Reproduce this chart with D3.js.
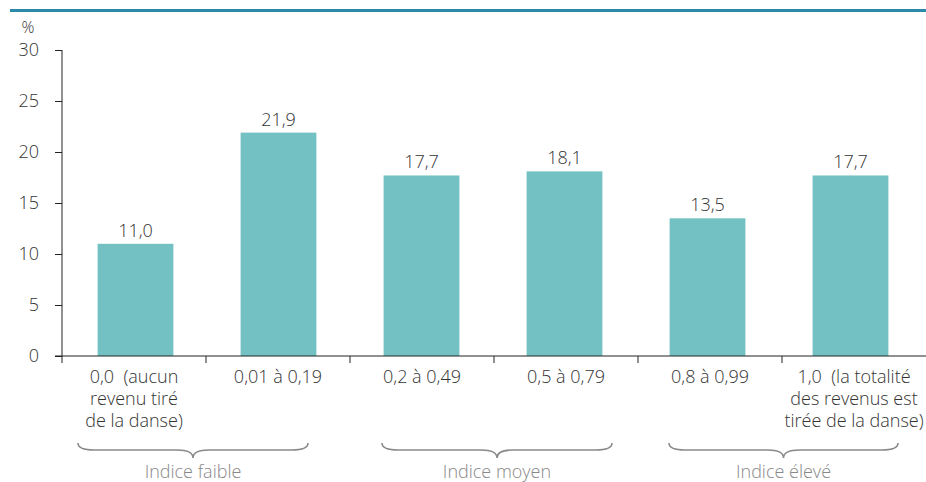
<!DOCTYPE html>
<html>
<head>
<meta charset="utf-8">
<script src="https://cdn.jsdelivr.net/npm/d3@7"></script>
<style>
  body { margin: 0; background: #fff; }
  text { font-family: "Open Sans", "Liberation Sans", sans-serif; font-weight: 300; white-space: pre; }
</style>
</head>
<body>
<svg id="chart" width="926" height="482"></svg>
<script>
// data
var categories = ["c0", "c1", "c2", "c3", "c4", "c5"];
var catLabels = [
  ["0,0  (aucun", "revenu tiré", "de la danse)"],
  ["0,01 à 0,19"],
  ["0,2 à 0,49"],
  ["0,5 à 0,79"],
  ["0,8 à 0,99"],
  ["1,0  (la totalité", "des revenus est", "tirée de la danse)"]
];
var values = [11.0, 21.9, 17.7, 18.1, 13.5, 17.7];
var groups = ["Indice faible", "Indice moyen", "Indice élevé"];
var groupStart = [0, 2, 4];
var yTicks = [0, 5, 10, 15, 20, 25, 30];

var svg = d3.select("#chart");
var mLeft = 62, mRight = 926, mTop = 50, mBottom = 356;
var fs = 18;

// top rule
svg.append("rect")
  .attr("x", 10).attr("y", 9)
  .attr("width", 916).attr("height", 3)
  .attr("fill", "#2b8aa7");

var x = d3.scaleBand()
  .domain(categories)
  .range([mLeft + 2, mRight - 4])
  .paddingInner(0.47)
  .paddingOuter(0.235);

var band = (mRight - mLeft) / categories.length;
var y = d3.scaleLinear().domain([0, 30]).range([mBottom, mTop]);

// y axis
var yAxis = svg.append("g")
  .attr("transform", "translate(" + mLeft + ",0)")
  .call(d3.axisLeft(y).tickValues(yTicks).tickSize(7).tickPadding(16));
yAxis.select(".domain").attr("stroke", "#222").attr("d", "M0," + mTop + "V" + mBottom);
yAxis.selectAll(".tick line").attr("stroke", "#222");
yAxis.selectAll(".tick text")
  .attr("font-size", fs).attr("fill", "#333")
  .attr("font-family", null)
  .style("font-family", "'Open Sans', sans-serif").style("font-weight", 300);

svg.append("text")
  .attr("x", 28).attr("y", 33)
  .attr("text-anchor", "middle")
  .attr("font-size", 16).attr("fill", "#333")
  .text("%");

// bars
svg.selectAll("rect.bar")
  .data(values)
  .join("rect")
  .attr("class", "bar")
  .attr("x", function (d, i) { return x(categories[i]); })
  .attr("width", x.bandwidth())
  .attr("y", function (d) { return y(d); })
  .attr("height", function (d) { return y(0) - y(d); })
  .attr("fill", "#73c1c2");

// value labels
svg.selectAll("text.val")
  .data(values)
  .join("text")
  .attr("class", "val")
  .attr("x", function (d, i) { return x(categories[i]) + x.bandwidth() / 2; })
  .attr("y", function (d) { return y(d) - 7; })
  .attr("text-anchor", "middle")
  .attr("font-size", fs).attr("fill", "#333")
  .text(function (d) { return d.toFixed(1).replace(".", ","); });

// x axis
svg.append("line")
  .attr("x1", 55).attr("x2", mRight)
  .attr("y1", mBottom).attr("y2", mBottom)
  .attr("stroke", "#222");
svg.selectAll("line.xt")
  .data(d3.range(categories.length))
  .join("line")
  .attr("class", "xt")
  .attr("x1", function (i) { return mLeft + i * band; })
  .attr("x2", function (i) { return mLeft + i * band; })
  .attr("y1", mBottom).attr("y2", mBottom + 7)
  .attr("stroke", "#222");

// category labels
var cl = svg.selectAll("text.cat")
  .data(catLabels)
  .join("text")
  .attr("class", "cat")
  .attr("text-anchor", "middle")
  .attr("font-size", fs).attr("fill", "#333");
cl.selectAll("tspan")
  .data(function (d, i) { return d.map(function (s) { return { s: s, i: i }; }); })
  .join("tspan")
  .attr("x", function (d) { return mLeft + d.i * band + band / 2; })
  .attr("y", function (d, j) { return 383 + j * 22; })
  .text(function (d) { return d.s; });

// braces
var braceInset = [[16, 42], [32, 26], [31, 28]];
function bracePath(x0, x1, yTop) {
  var m = (x0 + x1) / 2, h = 14, r = 8;
  return "M" + x0 + "," + yTop +
    " Q" + x0 + "," + (yTop + h / 2) + " " + (x0 + r * 2) + "," + (yTop + h / 2) +
    " L" + (m - r * 2) + "," + (yTop + h / 2) +
    " Q" + m + "," + (yTop + h / 2) + " " + m + "," + (yTop + h + 1) +
    " Q" + m + "," + (yTop + h / 2) + " " + (m + r * 2) + "," + (yTop + h / 2) +
    " L" + (x1 - r * 2) + "," + (yTop + h / 2) +
    " Q" + x1 + "," + (yTop + h / 2) + " " + x1 + "," + yTop;
}
groups.forEach(function (g, k) {
  var gx0 = mLeft + groupStart[k] * band + braceInset[k][0];
  var gx1 = mLeft + (groupStart[k] + 2) * band - braceInset[k][1];
  svg.append("path")
    .attr("d", bracePath(gx0, gx1, 443))
    .attr("fill", "none")
    .attr("stroke", "#8a8a8a")
    .attr("stroke-width", 1.6);
  svg.append("text")
    .attr("x", (gx0 + gx1) / 2)
    .attr("y", 478)
    .attr("text-anchor", "middle")
    .attr("font-size", fs).attr("fill", "#888")
    .text(g);
});
</script>
</body>
</html>
